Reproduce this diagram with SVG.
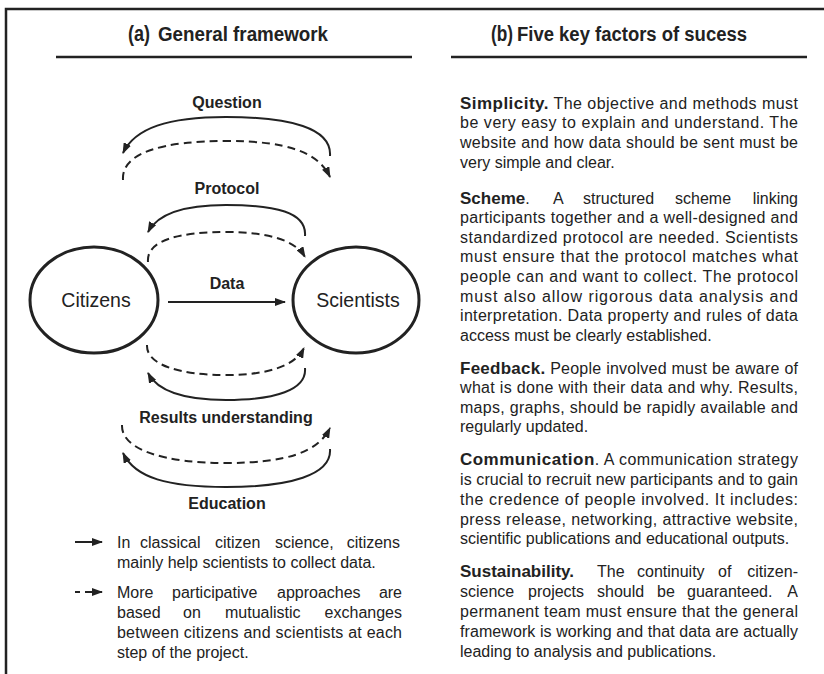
<svg xmlns="http://www.w3.org/2000/svg" width="824" height="674" viewBox="0 0 824 674">
<defs>
<marker id="ah" viewBox="0 0 11 8" refX="10" refY="4" markerWidth="11" markerHeight="8" markerUnits="userSpaceOnUse" orient="auto"><path d="M0,0 L11,4 L0,8 z" fill="#222"/></marker>
<style>
.frame{fill:none;stroke:#222;stroke-width:2.5}
.hd{font-family:"Liberation Sans",Arial,sans-serif;font-weight:bold;fill:#222}
.lbl{font-family:"Liberation Sans",Arial,sans-serif;font-weight:bold;font-size:16px;fill:#222;text-anchor:middle}
.node{fill:#fff;stroke:#222;stroke-width:3}
.ntx{font-family:"Liberation Sans",Arial,sans-serif;font-size:19.5px;fill:#222;text-anchor:middle}
.solid{fill:none;stroke:#222;stroke-width:2;marker-end:url(#ah)}
.dash{fill:none;stroke:#222;stroke-width:2;stroke-dasharray:8 5;marker-end:url(#ah)}
.t{font-family:"Liberation Sans",Arial,sans-serif;font-size:16px;fill:#222}
.b{font-weight:bold;font-size:17px}
.e{text-anchor:end}
</style>
</defs>

<g id="frame">
<path class="frame" d="M6,674 L6,9 L824,9"/>
<line class="frame" x1="56" y1="57" x2="412" y2="57"/>
<line class="frame" x1="451" y1="57" x2="807" y2="57"/>
</g>

<g id="header-a">
<text class="hd" x="128" y="41" font-size="22" textLength="22" lengthAdjust="spacingAndGlyphs">(a)</text>
<text class="hd" x="158" y="41" font-size="20" textLength="170" lengthAdjust="spacingAndGlyphs">General framework</text>
</g>
<g id="header-b">
<text class="hd" x="491" y="41" font-size="22" textLength="22" lengthAdjust="spacingAndGlyphs">(b)</text>
<text class="hd" x="517" y="41" font-size="20" textLength="230" lengthAdjust="spacingAndGlyphs">Five key factors of sucess</text>
</g>

<g id="connectors">
<path class="solid" d="M330,156 C332,128 290,117 226,117 C168,117 135,128 123,153"/>
<path class="dash" d="M123,180 C121,152 165,141 226,141 C287,141 318,152 330,177"/>
<path class="solid" d="M305,236 C307,212 275,205 226,205 C185,205 158,213 148,232"/>
<path class="dash" d="M148,262 C146,240 180,232 226,232 C268,232 295,240 305,257"/>
<line class="solid" x1="168" y1="302" x2="285" y2="302"/>
<path class="dash" d="M147,345 C146,365 180,375 226,375 C268,375 295,366 304,348"/>
<path class="solid" d="M305,368 C307,390 275,400 226,400 C185,400 158,392 148,373"/>
<path class="dash" d="M122,425 C121,450 165,463 226,463 C287,463 318,452 330,428"/>
<path class="solid" d="M330,449 C332,475 290,487 226,487 C168,487 135,478 123,453"/>
</g>

<g id="labels">
<text class="lbl" x="227" y="108">Question</text>
<text class="lbl" x="227" y="193.5">Protocol</text>
<text class="lbl" x="227" y="288.5">Data</text>
<text class="lbl" x="226" y="422.5">Results understanding</text>
<text class="lbl" x="227" y="508.5">Education</text>
</g>

<g id="citizens">
<ellipse class="node" cx="94" cy="300" rx="64" ry="53"/>
<text class="ntx" x="96" y="306.5">Citizens</text>
</g>
<g id="scientists">
<ellipse class="node" cx="356" cy="300" rx="63" ry="53"/>
<text class="ntx" x="358" y="306.5">Scientists</text>
</g>

<g id="legend">
<line class="solid" x1="75" y1="542" x2="102" y2="542"/>
<line x1="75" y1="592" x2="80" y2="592" stroke="#222" stroke-width="2"/>
<line class="solid" x1="85" y1="592" x2="102" y2="592"/>
<text class="t" y="547.5"><tspan x="117">In</tspan><tspan x="140">classical</tspan><tspan x="215">citizen</tspan><tspan x="275">science,</tspan><tspan x="400" class="e">citizens</tspan></text>
<text class="t" x="117" y="567.5">mainly help scientists to collect data.</text>
<text class="t" y="597.5"><tspan x="117">More</tspan><tspan x="172">participative</tspan><tspan x="277">approaches</tspan><tspan x="402" class="e">are</tspan></text>
<text class="t" y="617.5"><tspan x="117">based</tspan><tspan x="183">on</tspan><tspan x="225">mutualistic</tspan><tspan x="402" class="e">exchanges</tspan></text>
<text class="t" x="117" y="637.5" textLength="285" lengthAdjust="spacing">between citizens and scientists at each</text>
<text class="t" x="117" y="657.5">step of the project.</text>
</g>

<g id="simplicity">
<text class="t" x="460" y="108.5" textLength="338" lengthAdjust="spacing"><tspan class="b">Simplicity.</tspan> The objective and methods must</text>
<text class="t" x="460" y="128.3" textLength="338" lengthAdjust="spacing">be very easy to explain and understand. The</text>
<text class="t" x="460" y="148.1" textLength="338" lengthAdjust="spacing">website and how data should be sent must be</text>
<text class="t" x="460" y="167.9">very simple and clear.</text>
</g>

<g id="scheme">
<text class="t" y="203.5"><tspan x="460" class="b">Scheme</tspan>.<tspan x="553">A</tspan><tspan x="583">structured</tspan><tspan x="675">scheme</tspan><tspan x="798" class="e">linking</tspan></text>
<text class="t" x="460" y="223.1" textLength="338" lengthAdjust="spacing">participants together and a well-designed and</text>
<text class="t" x="460" y="242.7" textLength="338" lengthAdjust="spacing">standardized protocol are needed. Scientists</text>
<text class="t" x="460" y="262.3" textLength="338" lengthAdjust="spacing">must ensure that the protocol matches what</text>
<text class="t" x="460" y="281.9" textLength="338" lengthAdjust="spacing">people can and want to collect. The protocol</text>
<text class="t" x="460" y="301.5" textLength="338" lengthAdjust="spacing">must also allow rigorous data analysis and</text>
<text class="t" x="460" y="321.1" textLength="338" lengthAdjust="spacing">interpretation.  Data property and rules of data</text>
<text class="t" x="460" y="340.7">access must be clearly established.</text>
</g>

<g id="feedback">
<text class="t" x="460" y="373.5" textLength="338" lengthAdjust="spacing"><tspan class="b">Feedback.</tspan> People involved must be aware of</text>
<text class="t" x="460" y="393.1" textLength="338" lengthAdjust="spacing">what is done with their data and why.  Results,</text>
<text class="t" x="460" y="412.7" textLength="338" lengthAdjust="spacing">maps, graphs, should be rapidly available and</text>
<text class="t" x="460" y="432.3">regularly updated.</text>
</g>

<g id="communication">
<text class="t" x="460" y="465.2" textLength="338" lengthAdjust="spacing"><tspan class="b">Communication</tspan>. A communication strategy</text>
<text class="t" x="460" y="485" textLength="338" lengthAdjust="spacing">is crucial to recruit new participants and to gain</text>
<text class="t" x="460" y="504.8" textLength="338" lengthAdjust="spacing">the credence of people involved. It includes:</text>
<text class="t" x="460" y="524.6" textLength="338" lengthAdjust="spacing">press release, networking, attractive website,</text>
<text class="t" x="460" y="544.4">scientific publications and educational outputs.</text>
</g>

<g id="sustainability">
<text class="t" y="576.9"><tspan x="460" class="b">Sustainability.</tspan><tspan x="597">The</tspan><tspan x="637">continuity</tspan><tspan x="718">of</tspan><tspan x="798" class="e">citizen-</tspan></text>
<text class="t" y="596.9"><tspan x="460">science</tspan><tspan x="528">projects</tspan><tspan x="597">should</tspan><tspan x="657">be</tspan><tspan x="687">guaranteed.</tspan><tspan x="798" class="e">A</tspan></text>
<text class="t" x="460" y="616.9" textLength="338" lengthAdjust="spacing">permanent team must ensure that the general</text>
<text class="t" x="460" y="636.9" textLength="338" lengthAdjust="spacing">framework is working and that data are actually</text>
<text class="t" x="460" y="656.9">leading to analysis and publications.</text>
</g>
</svg>
